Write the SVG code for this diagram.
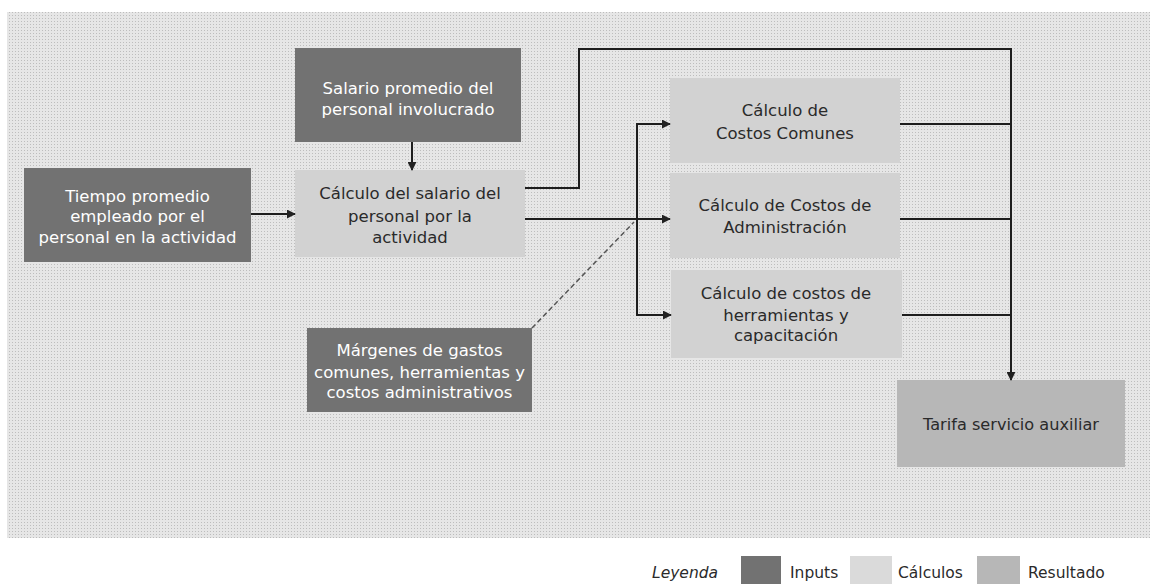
<svg xmlns="http://www.w3.org/2000/svg" width="1153" height="586" viewBox="0 0 1153 586">
<defs>
<marker id="arr" viewBox="0 0 10 10" refX="9" refY="5" markerWidth="9" markerHeight="9" markerUnits="userSpaceOnUse" orient="auto">
<path d="M0,0 L10,5 L0,10 z" fill="#222"/>
</marker>
<pattern id="dots" width="3" height="3" patternUnits="userSpaceOnUse">
<rect width="3" height="3" fill="#e6e6e6"/>
<rect width="1" height="1" fill="#bdbdbd"/>
</pattern>
</defs>
<style>
.input{fill:#727272}
.calc{fill:#d2d2d2}
.res{fill:#b7b7b7}
.t{font-family:"DejaVu Sans","Liberation Sans",sans-serif;font-size:16.5px;text-anchor:middle}
.tw{fill:#ffffff}
.td{fill:#2a2a2a}
.conn{fill:none;stroke:#1e1e1e;stroke-width:2}
.dash{fill:none;stroke:#555;stroke-width:1.5;stroke-dasharray:5,3}
.leg{font-family:"DejaVu Sans","Liberation Sans",sans-serif;font-size:15.5px;fill:#2a2a2a}
</style>
<rect x="7" y="12" width="1143" height="526" fill="url(#dots)"/>

<g id="salario">
<rect class="input" x="295" y="48" width="226" height="94"/>
<text class="t tw" x="408" y="94">Salario promedio del</text>
<text class="t tw" x="408" y="115">personal involucrado</text>
</g>
<g id="tiempo">
<rect class="input" x="24" y="168" width="227" height="94"/>
<text class="t tw" x="137.5" y="202">Tiempo promedio</text>
<text class="t tw" x="137.5" y="222">empleado por el</text>
<text class="t tw" x="137.5" y="243">personal en la actividad</text>
</g>
<g id="calculo-salario">
<rect class="calc" x="295" y="170" width="230" height="87"/>
<text class="t td" x="410" y="199">Cálculo del salario del</text>
<text class="t td" x="410" y="222">personal por la</text>
<text class="t td" x="410" y="243">actividad</text>
</g>
<g id="costos-comunes">
<rect class="calc" x="670" y="78" width="230" height="85"/>
<text class="t td" x="785" y="116">Cálculo de</text>
<text class="t td" x="785" y="139">Costos Comunes</text>
</g>
<g id="costos-admin">
<rect class="calc" x="670" y="173" width="230" height="85"/>
<text class="t td" x="785" y="211">Cálculo de Costos de</text>
<text class="t td" x="785" y="233">Administración</text>
</g>
<g id="costos-herramientas">
<rect class="calc" x="671" y="270" width="231" height="88"/>
<text class="t td" x="786" y="299">Cálculo de costos de</text>
<text class="t td" x="786" y="321">herramientas y</text>
<text class="t td" x="786" y="341">capacitación</text>
</g>
<g id="margenes">
<rect class="input" x="307" y="328" width="225" height="84"/>
<text class="t tw" x="419.5" y="356">Márgenes de gastos</text>
<text class="t tw" x="419.5" y="378">comunes, herramientas y</text>
<text class="t tw" x="419.5" y="398">costos administrativos</text>
</g>
<g id="tarifa">
<rect class="res" x="897" y="380" width="228" height="87"/>
<text class="t td" x="1011" y="430" textLength="176" lengthAdjust="spacingAndGlyphs">Tarifa servicio auxiliar</text>
</g>

<g id="connectors">
<path class="conn" d="M412,142 V170" marker-end="url(#arr)"/>
<path class="conn" d="M251,214 H295" marker-end="url(#arr)"/>
<path class="conn" d="M525,188 H579 V49 H1011 V380" marker-end="url(#arr)"/>
<path class="conn" d="M525,219 H670" marker-end="url(#arr)"/>
<path class="conn" d="M637,124 V315"/>
<path class="conn" d="M636,124 H670" marker-end="url(#arr)"/>
<path class="conn" d="M636,315 H671" marker-end="url(#arr)"/>
<path class="conn" d="M900,124 H1011"/>
<path class="conn" d="M900,219 H1011"/>
<path class="conn" d="M902,315 H1011"/>
<path class="dash" d="M532,328 L634,222"/>
</g>

<g id="legend">
<text class="leg" x="652" y="578" font-style="italic">Leyenda</text>
<rect class="input" x="741" y="556" width="40" height="28"/>
<text class="leg" x="790" y="578">Inputs</text>
<rect x="850" y="556" width="42" height="28" fill="#dadada"/>
<text class="leg" x="898" y="578">Cálculos</text>
<rect class="res" x="977" y="556" width="43" height="28"/>
<text class="leg" x="1028" y="578">Resultado</text>
</g>
</svg>
